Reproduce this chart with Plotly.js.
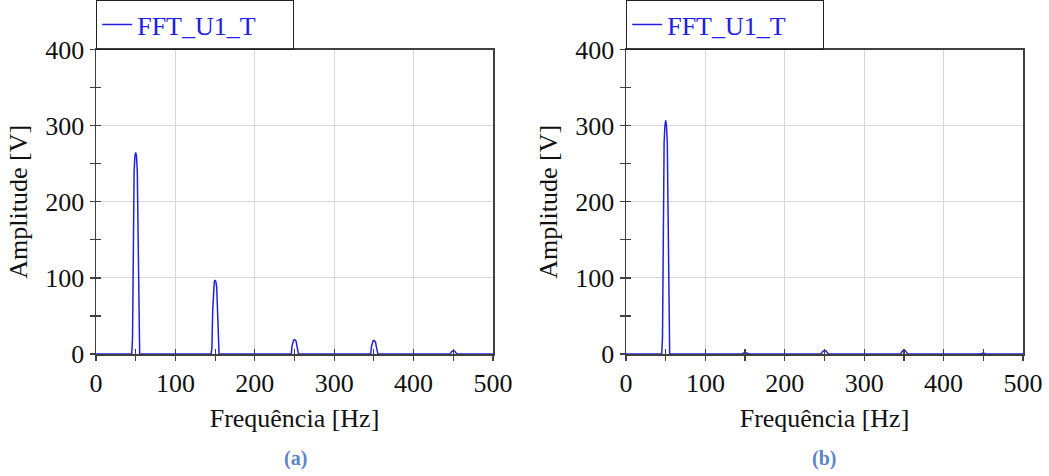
<!DOCTYPE html>
<html>
<head>
<meta charset="utf-8">
<script src="https://cdn.plot.ly/plotly-3.0.1.min.js"></script>
<style>
html,body{margin:0;padding:0;background:#fff;}
#chart{width:1049px;height:476px;}
#chart svg text{font-family:"Liberation Serif" !important;}
</style>
</head>
<body>
<div id="chart"></div>
<script>
// Panel (a) spectrum samples
const freqA = [0,45,46,47,48,49,50,51,52,53,54,55,
  145,146,147,148,149,150,151,152,153,154,155,
  245,246,247,248,249,250,251,252,253,254,255,
  345,346,347,348,349,350,351,352,353,354,355,
  445,446,447,448,449,450,451,452,453,454,455,500];
const ampA = [0,0,20,160,240,260,265,260,240,160,20,0,
  0,8,58,88,95,97,95,88,58,8,0,
  0,1,11,17,18.5,19,18.5,17,11,1,0,
  0,1,10,16,17.5,18,17.5,16,10,1,0,
  0,0,2,3.5,4,4.2,4,3.5,2,0,0,0];
// Panel (b) spectrum samples
const freqB = [0,45,46,47,48,49,50,51,52,53,54,55,
  145,146,147,148,149,150,151,152,153,154,155,
  245,246,247,248,249,250,251,252,253,254,255,
  345,346,347,348,349,350,351,352,353,354,355,
  445,446,447,448,449,450,451,452,453,454,455,500];
const ampB = [0,0,23,185,278,300,307,300,278,185,23,0,
  0,0,0.5,1.3,1.8,2,1.8,1.3,0.5,0,0,
  0,0,2.5,4,4.4,4.5,4.4,4,2.5,0,0,
  0,0,2.5,4,4.4,4.5,4.4,4,2.5,0,0,
  0,0,0,0.6,1,1.2,1,0.6,0,0,0,0];
const seriesName = "FFT_U1_T";
const xTitle = "Frequência [Hz]";
const yTitle = "Amplitude [V]";
const captions = ["(a)", "(b)"];

const W = 1049, H = 476;
const serif = "Liberation Serif";
const lineCol = "#2222dd";
const axCol = "#404040";
const yDom = [1 - 353/H, 1 - 46/H];
const xDomA = [96/W, 493/W];
const xDomB = [626/W, 1023/W];
const FS = 26;

function mainX(dom, anchor) {
  return {domain: dom, anchor: anchor, range: [0, 500], dtick: 100, tick0: 0,
    ticks: "outside", ticklen: 5, tickwidth: 1.2, tickcolor: axCol,
    minor: {dtick: 50, ticks: "outside", ticklen: 5, tickwidth: 1.2, tickcolor: axCol, showgrid: false},
    showline: true, linecolor: axCol, linewidth: 1.5, mirror: true,
    showgrid: true, gridcolor: "#d6d6d6", gridwidth: 1, zeroline: false,
    tickfont: {family: serif, size: FS, color: "#111"},
    title: {text: xTitle, font: {family: serif, size: FS, color: "#111"}, standoff: 12},
    fixedrange: true};
}
function mainY(dom, anchor) {
  return {domain: dom, anchor: anchor, range: [0, 400], dtick: 100, tick0: 0,
    ticks: "outside", ticklen: 5, tickwidth: 1.2, tickcolor: axCol,
    minor: {dtick: 50, ticks: "outside", ticklen: 5, tickwidth: 1.2, tickcolor: axCol, showgrid: false},
    showline: true, linecolor: axCol, linewidth: 1.5, mirror: true,
    showgrid: true, gridcolor: "#d6d6d6", gridwidth: 1, zeroline: false,
    tickfont: {family: serif, size: FS, color: "#111"},
    title: {text: yTitle, font: {family: serif, size: FS, color: "#111"}, standoff: 10},
    fixedrange: true};
}
function overX(dom, anchor, over) {
  return {domain: dom, anchor: anchor, overlaying: over, range: [0, 500], dtick: 50, tick0: 0,
    ticks: "inside", ticklen: 5, tickwidth: 1.2, tickcolor: axCol, showticklabels: false,
    showgrid: false, zeroline: false, showline: false, fixedrange: true};
}
function overY(dom, anchor, over) {
  return {domain: dom, anchor: anchor, overlaying: over, range: [0, 400], dtick: 50, tick0: 0,
    ticks: "inside", ticklen: 5, tickwidth: 1.2, tickcolor: axCol, showticklabels: false,
    showgrid: false, zeroline: false, showline: false, fixedrange: true};
}

const traces = [
  {x: freqA, y: ampA, type: "scatter", mode: "lines", name: seriesName,
   line: {color: lineCol, width: 1.5}, xaxis: "x", yaxis: "y", legend: "legend", cliponaxis: false},
  {x: freqB, y: ampB, type: "scatter", mode: "lines", name: seriesName,
   line: {color: lineCol, width: 1.5}, xaxis: "x2", yaxis: "y2", legend: "legend2", cliponaxis: false},
  {x: [], y: [], type: "scatter", mode: "lines", showlegend: false, hoverinfo: "skip", xaxis: "x3", yaxis: "y3"},
  {x: [], y: [], type: "scatter", mode: "lines", showlegend: false, hoverinfo: "skip", xaxis: "x4", yaxis: "y4"}
];

function legendAt(xPaper) {
  return {x: xPaper, y: yDom[1], xanchor: "left", yanchor: "bottom", orientation: "h",
    bordercolor: "#222", borderwidth: 1.2, bgcolor: "rgba(255,255,255,0)",
    font: {family: serif, size: FS, color: "#2020e6"}, entrywidth: 150, itemwidth: 30};
}

const layout = {
  width: W, height: H, margin: {l: 0, r: 0, t: 0, b: 0},
  font: {family: serif, size: FS, color: "#111"},
  paper_bgcolor: "#fff", plot_bgcolor: "#fff", showlegend: true,
  xaxis: mainX(xDomA, "y"), yaxis: mainY(yDom, "x"),
  xaxis2: mainX(xDomB, "y2"), yaxis2: mainY(yDom, "x2"),
  xaxis3: overX(xDomA, "y3", "x"), yaxis3: overY(yDom, "x3", "y"),
  xaxis4: overX(xDomB, "y4", "x2"), yaxis4: overY(yDom, "x4", "y2"),
  legend: legendAt(xDomA[0]), legend2: legendAt(xDomB[0]),
  annotations: captions.map((c, i) => ({
    text: "<b>" + c + "</b>", xref: "paper", yref: "paper",
    x: i === 0 ? 295/W : 824/W, y: 1 - 458/H, xanchor: "center", yanchor: "middle",
    showarrow: false, font: {family: serif, size: 20, color: "#5a86c8"}
  }))
};

Plotly.newPlot("chart", traces, layout, {displayModeBar: false, staticPlot: true});
</script>
</body>
</html>
